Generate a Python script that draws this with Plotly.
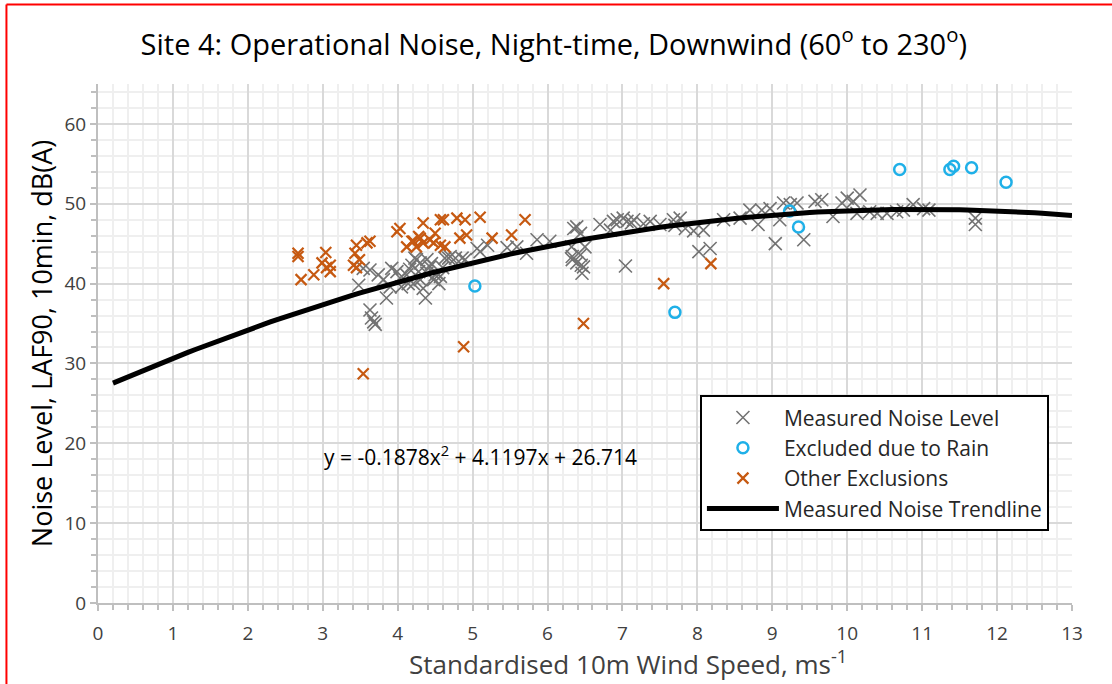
import plotly.graph_objects as go

# ---------------- data ----------------
measured_x = [3.48, 3.54, 3.63, 3.74, 3.81, 3.85, 3.63, 3.65, 3.68, 3.70, 3.92, 3.99, 3.90,
              4.05, 4.14, 4.19, 4.25, 4.28, 4.30, 4.37, 4.39, 4.43, 4.48, 4.52, 4.57, 4.63, 4.70,
              4.77, 4.86, 4.34, 4.03, 4.12, 4.21, 4.23, 4.30, 4.39, 4.50, 4.55, 4.68, 4.16, 4.45,
              4.60, 4.90,
              5.06, 5.10, 5.46, 5.59, 5.72, 5.86, 6.03, 5.20,
              6.35, 6.39, 6.44, 6.33, 6.33, 6.39, 6.44, 6.48, 6.50, 6.46, 6.32, 6.45,
              6.70, 6.84, 6.88, 6.93, 7.01, 7.06, 7.12, 7.15, 7.28, 7.37, 7.50, 7.68, 7.77, 7.84,
              7.95, 8.02, 7.04, 8.08, 8.17, 7.70,
              8.35, 8.57, 8.70, 8.81, 8.86, 8.97, 9.10, 9.15, 9.24, 9.33, 9.04, 9.42, 9.57, 9.66,
              9.81,
              9.93, 10.00, 10.08, 10.17, 10.13, 10.40, 10.53, 10.66, 10.75, 10.88, 11.02, 11.09,
              10.30, 11.71, 11.71]
measured_y = [39.8, 41.9, 41.7, 41.1, 40.5, 38.2, 36.7, 35.7, 35.2, 34.9, 41.9, 41.5, 39.6,
              39.6, 40.0, 42.3, 43.0, 41.5, 40.5, 38.2, 43.0, 42.1, 40.5, 41.3, 40.9, 43.2, 43.4,
              43.2, 43.2, 39.4, 40.7, 41.1, 40.0, 43.2, 42.6, 41.3, 41.1, 40.0, 43.2, 41.8, 42.5,
              42.0, 43.0,
              44.4, 44.0, 44.5, 44.6, 43.8, 45.5, 45.3, 44.8,
              46.9, 47.1, 46.3, 43.4, 43.0, 42.6, 43.6, 42.1, 44.6, 41.3, 44.6, 42.3,
              47.4, 46.7, 47.8, 48.0, 48.2, 47.8, 47.6, 48.0, 47.5, 47.8, 47.4, 48.0, 48.2, 46.9,
              46.6, 44.0, 42.2, 46.7, 44.4, 47.3,
              48.0, 48.2, 49.2, 47.4, 49.2, 49.4, 48.0, 50.1, 49.9, 50.1, 45.0, 45.5, 50.3, 50.5,
              48.4,
              50.1, 50.7, 50.3, 51.1, 48.8, 48.8, 48.8, 49.0, 49.2, 49.9, 49.4, 49.2,
              49.0, 48.2, 47.4]

rain_x = [5.03, 7.70, 9.23, 9.35, 10.70, 11.37, 11.42, 11.66, 12.12]
rain_y = [39.7, 36.4, 49.1, 47.1, 54.3, 54.3, 54.7, 54.5, 52.7]

other_x = [2.67, 2.67, 2.71, 2.88, 3.04, 2.99, 3.10, 3.10, 3.05, 3.45, 3.43, 3.49, 3.41, 3.45,
           3.59, 3.63, 3.54, 4.03, 3.99, 4.34, 4.57, 4.61, 4.79, 4.90, 5.10, 5.70, 5.52, 5.26,
           4.83, 4.92, 4.12, 4.21, 4.30, 4.34, 4.43, 4.48, 4.50, 4.57, 4.63, 4.25, 4.19, 4.28,
           4.88, 6.48, 7.55, 8.18]
other_y = [43.8, 43.4, 40.5, 41.1, 43.9, 42.6, 42.3, 41.5, 42.0, 44.8, 43.8, 43.0, 42.3, 42.0,
           45.1, 45.3, 28.7, 46.9, 46.5, 47.6, 48.0, 48.0, 48.2, 48.0, 48.3, 48.0, 46.1, 45.7,
           45.7, 46.1, 44.6, 45.3, 45.7, 45.1, 45.5, 45.1, 46.3, 44.8, 44.6, 44.6, 45.3, 45.9,
           32.1, 35.0, 40.0, 42.5]

# trendline as given on the chart: y = a x^2 + b x + c
trend_coef = [-0.1878, 4.1197, 26.714]
trend_x = [round(0.2 + 0.1 * i, 2) for i in range(129)]
trend_y = [trend_coef[0] * x * x + trend_coef[1] * x + trend_coef[2] for x in trend_x]

x_ticks = list(range(0, 14))
y_ticks = list(range(0, 61, 10))

FONT = "Open Sans"

fig = go.Figure()
fig.add_trace(go.Scatter(x=measured_x, y=measured_y, mode="markers", name="Measured Noise Level",
                         legendgroup="a",
                         marker=dict(symbol="x-thin", size=13, line=dict(color="#737373", width=1.6))))
fig.add_trace(go.Scatter(x=rain_x, y=rain_y, mode="markers", name="Excluded due to Rain",
                         legendgroup="b",
                         marker=dict(symbol="circle-open", size=11, color="#1fb0e8",
                                     line=dict(color="#1fb0e8", width=2.5))))
fig.add_trace(go.Scatter(x=other_x, y=other_y, mode="markers", name="Other Exclusions",
                         legendgroup="c",
                         marker=dict(symbol="x-thin", size=11, line=dict(color="#c65911", width=2.2))))
fig.add_trace(go.Scatter(x=trend_x, y=trend_y, mode="lines", name="Measured Noise Trendline",
                         legendgroup="d",
                         line=dict(color="black", width=5)))

axis_common = dict(showline=True, linecolor="#bfbfbf", linewidth=2, zeroline=False,
                   gridcolor="#d9d9d9", gridwidth=2, ticks="outside", ticklen=6,
                   tickcolor="#bfbfbf", tickwidth=2)

fig.update_xaxes(range=[0, 13], tickvals=x_ticks, ticktext=[str(v) for v in x_ticks],
                 tickfont=dict(family=FONT, size=19, color="#404040"), ticklabelstandoff=6,
                 minor=dict(dtick=0.2, showgrid=True, gridcolor="#efefef", gridwidth=2,
                            ticks="outside", ticklen=5, tickcolor="#bfbfbf", tickwidth=1.5),
                 **axis_common)
fig.update_yaxes(range=[0, 65], tickvals=y_ticks, ticktext=[str(v) for v in y_ticks],
                 tickfont=dict(family=FONT, size=19, color="#404040"),
                 minor=dict(dtick=2, showgrid=True, gridcolor="#efefef", gridwidth=2,
                            ticks="outside", ticklen=5, tickcolor="#bfbfbf", tickwidth=1.5),
                 title=dict(text="Noise Level, LAF90, 10min, dB(A)",
                            font=dict(family=FONT, size=27, color="#000000"), standoff=4),
                 **axis_common)

# x-axis title (placed as in the reference, slightly right of centre)
fig.add_annotation(x=0.544, y=-0.115, xref="paper", yref="paper", showarrow=False,
                   xanchor="center", yanchor="middle",
                   text="Standardised 10m Wind Speed, ms<sup>-1</sup>",
                   font=dict(family=FONT, size=26, color="#404040"))

fig.add_annotation(x=5.1, y=18.5, xref="x", yref="y", showarrow=False,
                   text="y = -0.1878x<sup>2</sup> + 4.1197x + 26.714",
                   font=dict(family=FONT, size=21, color="#000000"))

# red frame (left and top)
fig.add_shape(type="line", xref="paper", yref="paper", x0=-0.094, x1=-0.094, y0=-0.2, y1=1.153,
              line=dict(color="#ff0000", width=2))
fig.add_shape(type="line", xref="paper", yref="paper", x0=-0.094, x1=1.05, y0=1.153, y1=1.153,
              line=dict(color="#ff0000", width=2))

fig.update_layout(
    width=1112, height=684,
    margin=dict(l=98, r=40, t=84, b=81),
    paper_bgcolor="white", plot_bgcolor="white",
    title=dict(text="Site 4: Operational Noise, Night-time, Downwind (60<sup>o</sup> to 230<sup>o</sup>)",
               x=0.498, xanchor="center", y=0.935, yanchor="middle",
               font=dict(family=FONT, size=29, color="#000000")),
    legend=dict(x=0.618, y=0.400, xanchor="left", yanchor="top",
                bgcolor="white", bordercolor="black", borderwidth=2,
                font=dict(family=FONT, size=21, color="#262626"),
                tracegroupgap=0, itemwidth=72),
    showlegend=True,
)

fig.write_html("out.html")
